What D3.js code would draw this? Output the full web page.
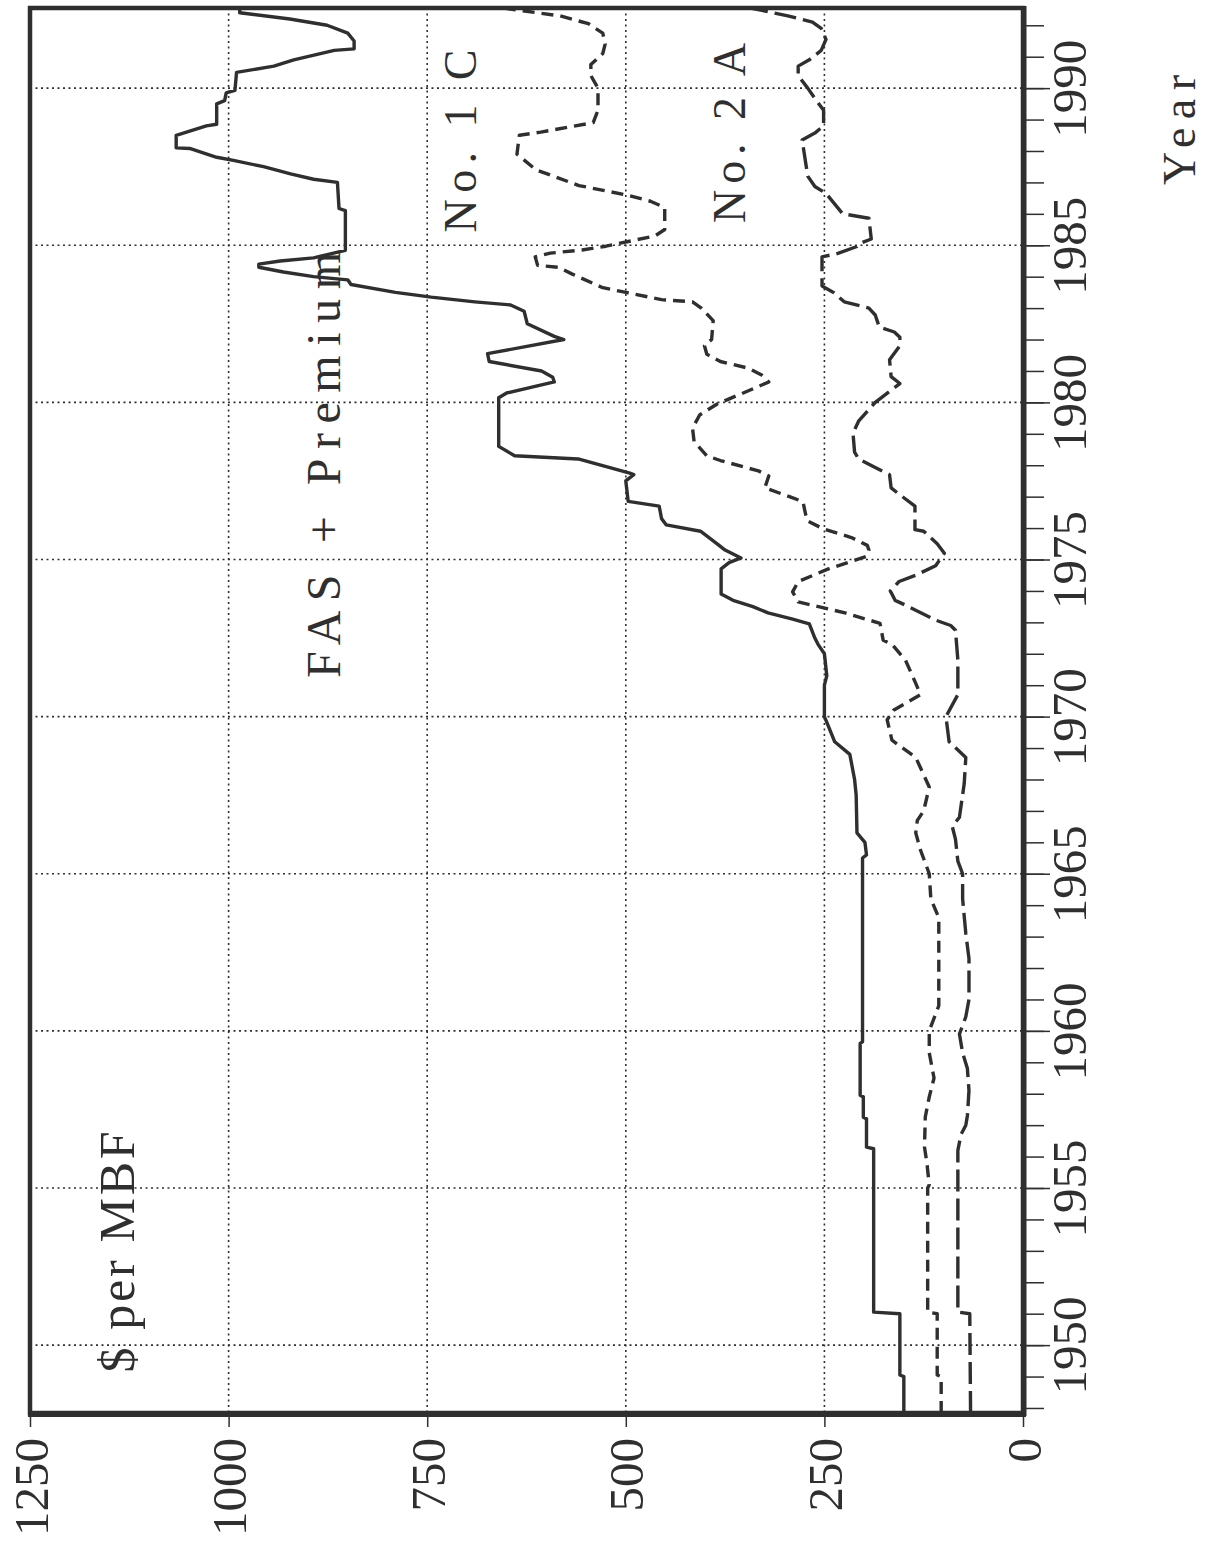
<!DOCTYPE html>
<html>
<head>
<meta charset="utf-8">
<script src="https://cdn.jsdelivr.net/npm/d3@7"></script>
<style>
  html, body { margin: 0; padding: 0; background: #fff; }
  svg { display: block; }
</style>
</head>
<body>
<svg id="chart" width="1215" height="1547"></svg>
<script>
// Price axis ticks ($ per MBF) and year ticks
const priceTicks = [0, 250, 500, 750, 1000, 1250];
const yearTicks = [1950, 1955, 1960, 1965, 1970, 1975, 1980, 1985, 1990];
const yearMinorTicks = d3.range(1948, 1993);

// Series labels
const seriesLabels = ["FAS + Premium", "No. 1 C", "No. 2 A"];

// FAS + Premium grade, [year, $ per MBF]
const fasPremium = [
  [1947.84,150],[1949.0,150],[1949.05,155],[1951.0,155],[1951.05,188],[1956.25,188],
  [1956.3,197],[1957.2,197],[1957.25,201],[1957.9,201],[1957.95,205],[1959.6,205],
  [1959.65,202],[1965.5,202],[1965.6,197],[1966.0,199],[1966.3,209],[1967.5,210],
  [1968.0,212],[1968.8,218],[1969.2,237],[1969.7,245],[1970.0,250],[1971.0,250],
  [1971.3,247],[1972.0,250],[1972.3,258],[1972.5,262],[1972.95,269],[1973.1,290],
  [1973.3,321],[1973.5,340],[1973.7,365],[1973.9,380],[1974.7,380],[1974.9,370],
  [1975.05,355],[1975.3,375],[1975.5,385],[1975.9,406],[1976.1,449],[1976.3,455],
  [1976.7,458],[1976.85,497],[1977.5,500],[1977.7,490],[1977.75,495],[1978.2,560],
  [1978.3,640],[1978.6,660],[1980.15,660],[1980.3,650],[1980.65,590],[1980.8,592],
  [1981.0,606],[1981.3,672],[1981.55,674],[1982.0,578],[1982.1,590],[1982.5,624],
  [1982.9,628],[1983.1,645],[1983.2,690],[1983.35,745],[1983.5,790],[1983.75,846],
  [1983.9,850],[1984.0,893],[1984.15,931],[1984.3,962],[1984.4,962],[1984.5,935],
  [1984.6,893],[1984.84,853],[1986.1,853],[1986.17,861],[1987.0,863],[1987.1,893],
  [1987.27,922],[1987.5,956],[1987.7,994],[1987.8,1015],[1988.08,1049],[1988.1,1066],
  [1988.5,1066],[1988.8,1028],[1988.85,1015],[1989.5,1015],[1989.6,1005],[1989.85,1003],
  [1989.93,992],[1990.5,990],[1990.7,943],[1990.9,918],[1991.2,867],[1991.25,842],
  [1991.5,842],[1991.75,850],[1992.0,876],[1992.2,923],[1992.4,986],[1992.55,986]
];

// No. 1 Common grade
const no1C = [
  [1947.84,103],[1949.0,103],[1949.05,108],[1951.0,108],[1951.05,120],[1955.0,120],
  [1955.1,118],[1955.8,121],[1956.3,124],[1957.26,123],[1957.9,118],[1958.5,112],
  [1959.3,118],[1960.0,118],[1960.8,106],[1963.6,106],[1964.2,116],[1965.0,118],
  [1965.75,129],[1966.3,135],[1966.7,133],[1967.0,125],[1967.76,118],[1968.7,135],
  [1969.25,165],[1969.9,171],[1970.2,163],[1970.7,129],[1971.06,135],[1971.8,148],
  [1972.3,165],[1972.43,176],[1972.97,180],[1973.3,224],[1973.55,266],[1973.65,283],
  [1973.97,290],[1974.3,283],[1974.7,245],[1975.1,197],[1975.3,194],[1975.45,196],
  [1975.7,216],[1975.97,251],[1976.24,272],[1976.84,277],[1977.0,294],[1977.28,325],
  [1977.66,320],[1977.82,333],[1978.15,381],[1978.3,398],[1978.75,414],[1979.18,416],
  [1979.6,407],[1979.95,385],[1980.27,355],[1980.65,320],[1980.87,329],[1981.09,346],
  [1981.3,381],[1981.53,398],[1981.8,401],[1982.0,392],[1982.6,390],[1983.0,405],
  [1983.2,416],[1983.27,455],[1983.49,498],[1983.65,529],[1984.09,568],[1984.3,585],
  [1984.36,611],[1984.63,614],[1984.75,595],[1984.85,555],[1984.97,525],[1985.3,463],
  [1985.5,451],[1986.2,451],[1986.4,469],[1986.6,499],[1986.9,559],[1987.4,613],
  [1987.9,637],[1988.5,634],[1988.6,607],[1988.9,541],[1989.3,535],[1990.0,535],
  [1990.4,544],[1990.75,544],[1991.1,529],[1991.4,526],[1991.75,529],[1992.05,547],
  [1992.3,583],[1992.55,655]
];

// No. 2A Common grade
const no2A = [
  [1947.84,66],[1951.0,67],[1951.05,82],[1955.2,82],[1956.2,82],[1956.7,78],
  [1957.0,72],[1957.3,70],[1958.1,68],[1958.8,70],[1959.3,76],[1959.9,80],
  [1960.45,72],[1961.0,68],[1962.3,68],[1963.1,72],[1964.2,76],[1965.0,76],
  [1965.4,82],[1966.1,85],[1966.5,89],[1966.8,80],[1967.87,74],[1968.7,72],
  [1969.2,93],[1970.0,97],[1970.7,82],[1971.8,82],[1972.75,85],[1972.9,91],
  [1973.07,110],[1973.55,148],[1973.7,161],[1974.0,167],[1974.3,156],[1974.5,135],
  [1974.8,110],[1975.2,99],[1975.5,108],[1975.9,125],[1975.95,136],[1976.7,136],
  [1977.06,155],[1977.28,166],[1977.7,168],[1977.93,186],[1978.2,207],[1978.42,212],
  [1979.02,214],[1979.4,207],[1980.0,186],[1980.6,155],[1980.82,166],[1981.36,168],
  [1981.8,155],[1982.07,155],[1982.24,162],[1982.4,181],[1982.78,186],[1983.0,194],
  [1983.2,225],[1983.49,238],[1983.7,253],[1984.63,253],[1984.74,233],[1984.96,209],
  [1985.05,206],[1985.2,191],[1985.86,194],[1986.0,227],[1986.65,248],[1986.87,262],
  [1987.2,271],[1988.35,278],[1988.57,262],[1988.8,251],[1989.3,251],[1989.6,260],
  [1990.0,271],[1990.4,283],[1990.7,283],[1990.9,269],[1991.2,254],[1991.55,248],
  [1991.9,254],[1992.1,265],[1992.3,296],[1992.55,343]
];

const ink = "#2f2f2f";
const fontFamily = "'Liberation Serif', 'DejaVu Serif', serif";

const frame = { left: 30, right: 1023, top: 8, bottom: 1413 };
const svg = d3.select("#chart");

// The chart is laid out sideways: price runs right-to-left, years bottom-to-top.
const price = d3.scaleLinear().domain([0, 1250]).range([frame.right, frame.left]);
const year = d3.scaleLinear().domain([1947.84, 1992.55]).range([frame.bottom, frame.top]);

// dotted grid
const grid = svg.append("g").attr("stroke", ink).attr("stroke-width", 1.6)
  .attr("stroke-dasharray", "2,3.5");
grid.selectAll("line.px").data(priceTicks.filter(v => v > 0 && v < 1250)).join("line")
  .attr("x1", d => price(d)).attr("x2", d => price(d))
  .attr("y1", frame.top).attr("y2", frame.bottom);
grid.selectAll("line.yr").data(yearTicks).join("line")
  .attr("y1", d => year(d)).attr("y2", d => year(d))
  .attr("x1", frame.left).attr("x2", frame.right);

// data lines
svg.append("clipPath").attr("id", "plot-clip").append("rect")
  .attr("x", frame.left).attr("y", frame.top)
  .attr("width", frame.right - frame.left).attr("height", frame.bottom - frame.top);

const line = d3.line().x(d => price(d[1])).y(d => year(d[0]));
const series = [
  { data: fasPremium, dash: null, width: 3.4 },
  { data: no1C, dash: "12,7", width: 3.4 },
  { data: no2A, dash: "22,7", width: 3.4 }
];
const lines = svg.append("g").attr("clip-path", "url(#plot-clip)");
series.forEach(s => {
  lines.append("path").attr("d", line(s.data))
    .attr("fill", "none").attr("stroke", ink).attr("stroke-width", s.width)
    .attr("stroke-linejoin", "round")
    .attr("stroke-dasharray", s.dash);
});

// frame
svg.append("rect")
  .attr("x", frame.left).attr("y", frame.top)
  .attr("width", frame.right - frame.left).attr("height", frame.bottom - frame.top)
  .attr("fill", "none").attr("stroke", ink).attr("stroke-width", 4.5);
svg.append("line").attr("x1", frame.left - 2).attr("x2", frame.right + 3)
  .attr("y1", frame.bottom + 1).attr("y2", frame.bottom + 1)
  .attr("stroke", ink).attr("stroke-width", 6);
svg.append("line").attr("x1", frame.right + 1).attr("x2", frame.right + 1)
  .attr("y1", frame.top - 2).attr("y2", frame.bottom + 3)
  .attr("stroke", ink).attr("stroke-width", 5);

// price axis along the bottom
const priceAxis = svg.append("g")
  .attr("transform", `translate(0,${frame.bottom + 3})`)
  .call(d3.axisBottom(price).tickValues(priceTicks).tickSize(11).tickFormat(d => String(d)));
priceAxis.select(".domain").remove();
priceAxis.selectAll(".tick line").attr("stroke", ink).attr("stroke-width", 1.5);
priceAxis.selectAll(".tick text")
  .attr("x", 0).attr("y", 0).attr("dy", "0.35em")
  .attr("transform", "translate(0,22) rotate(-90)")
  .attr("text-anchor", "end")
  .attr("fill", ink).attr("font-family", fontFamily).attr("font-size", 49);

// year axis along the right edge
const minorAxis = svg.append("g")
  .attr("transform", `translate(${frame.right + 3},0)`)
  .call(d3.axisRight(year).tickValues(yearMinorTicks).tickSize(18).tickFormat(""));
minorAxis.select(".domain").remove();
minorAxis.selectAll(".tick line").attr("stroke", ink).attr("stroke-width", 1.5);

const yearAxis = svg.append("g")
  .attr("transform", `translate(${frame.right + 3},0)`)
  .call(d3.axisRight(year).tickValues(yearTicks).tickSize(24).tickFormat(d => String(d)));
yearAxis.select(".domain").remove();
yearAxis.selectAll(".tick line").attr("stroke", ink).attr("stroke-width", 1.5);
yearAxis.selectAll(".tick text")
  .attr("x", 0).attr("y", 0).attr("dy", 0)
  .attr("transform", "translate(60,0) rotate(-90)")
  .attr("text-anchor", "middle")
  .attr("fill", ink).attr("font-family", fontFamily).attr("font-size", 49);

// rotated text labels: baseline x, centre y, overall length, font size
function sideLabel(text, bx, cy, len, size) {
  svg.append("text")
    .attr("transform", `translate(${bx},${cy}) rotate(-90)`)
    .attr("text-anchor", "middle")
    .attr("textLength", len).attr("lengthAdjust", "spacing")
    .attr("fill", ink).attr("font-family", fontFamily).attr("font-size", size)
    .text(text);
}
sideLabel("$ per MBF", 134, 1252, 241, 50);
sideLabel(seriesLabels[0], 340, 465, 426, 48);
sideLabel(seriesLabels[1], 476, 141, 183, 46);
sideLabel(seriesLabels[2], 745, 133, 180, 46);
sideLabel("Year", 1195, 130, 110, 46);
</script>
</body>
</html>
